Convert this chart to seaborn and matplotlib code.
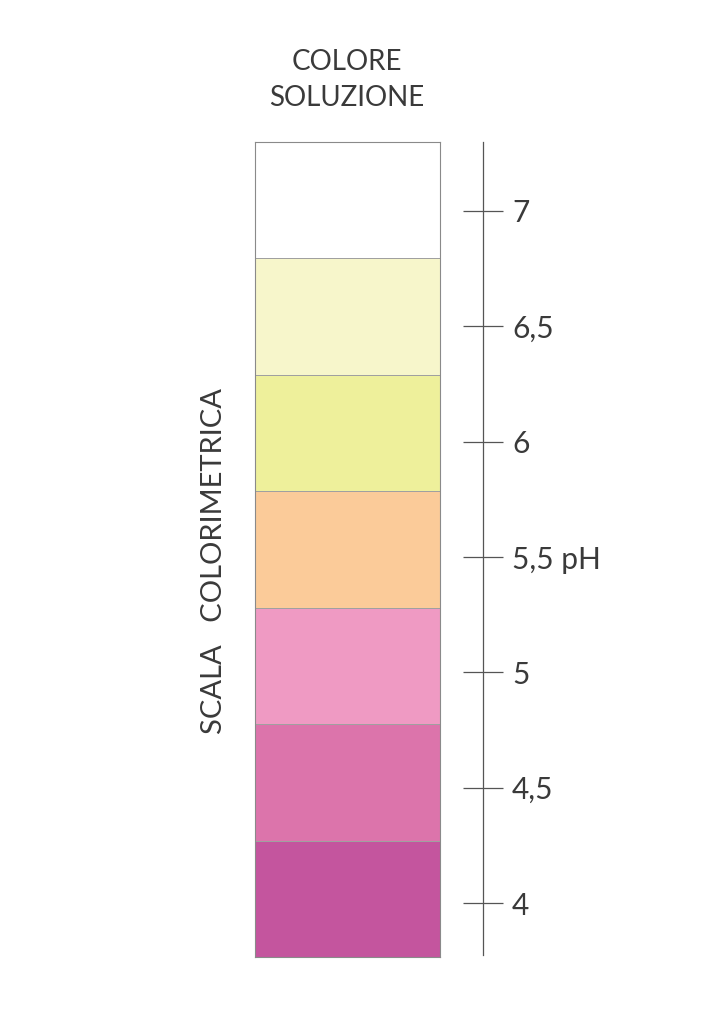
import matplotlib
matplotlib.use("Agg")
import matplotlib.pyplot as plt
import seaborn as sns
import numpy as np
import pandas as pd
from matplotlib.colors import ListedColormap

# pH steps of the colorimetric scale (top to bottom) and their colours
ph_values = [7, 6.5, 6, 5.5, 5, 4.5, 4]
ph_labels = ["7", "6,5", "6", "5,5 pH", "5", "4,5", "4"]
block_colors = ["#FFFFFF", "#F7F6CB", "#EEF09B", "#FBCB99", "#EF9AC3", "#DC74AB", "#C4559E"]

sns.set_style("white")
plt.rcParams["font.family"] = ["Lato", "DejaVu Sans"]
text_color = "#3a3a3a"

W, H = 716, 1010
fig = plt.figure(figsize=(W / 100, H / 100), dpi=100)

# colour column
top, bottom = 142, 957
ax = fig.add_axes([255 / W, 1 - bottom / H, (440 - 255) / W, (bottom - top) / H])
df = pd.DataFrame({"colore": ph_values})
cmap = ListedColormap(block_colors[::-1])
sns.heatmap(df, ax=ax, cmap=cmap, vmin=3.75, vmax=7.25, cbar=False,
            linewidths=0.6, linecolor="#a0a0a0", xticklabels=False, yticklabels=False)
for s in ax.spines.values():
    s.set_visible(True)
    s.set_color("#8a8a8a")
    s.set_linewidth(0.8)

# pH scale (ticks sit a little below the block centres)
ax2 = fig.add_axes([300 / W, 1 - 955 / H, (483 - 300) / W, (955 - top) / H])
ax2.set_ylim(3.775, 7.299)
ax2.patch.set_alpha(0)
for k in ["left", "top", "bottom"]:
    ax2.spines[k].set_visible(False)
ax2.spines["right"].set_color("#555555")
ax2.spines["right"].set_linewidth(0.9)
ax2.set_xticks([])
ax2.yaxis.tick_right()
ax2.set_yticks(ph_values)
ax2.set_yticklabels(ph_labels)
ax2.tick_params(axis="y", direction="inout", length=28.8, width=0.9, color="#555555",
                pad=6.5, labelsize=21.5, labelcolor=text_color)

fig.text(347 / W, 1 - 80 / H, "COLORE\nSOLUZIONE", ha="center", va="center",
         fontsize=20, color=text_color, linespacing=1.45)
fig.text(214 / W, 1 - 561 / H, "SCALA   COLORIMETRICA", ha="center", va="center",
         rotation=90, fontsize=21, color=text_color)

fig.savefig("out.png", dpi=100)
